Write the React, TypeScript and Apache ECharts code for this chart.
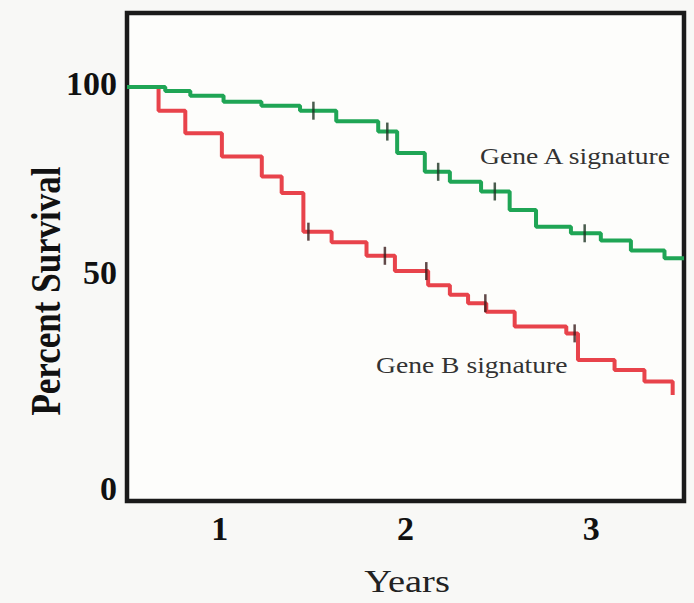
import React, { useEffect, useRef } from 'react';
import * as echarts from 'echarts';

// Kaplan–Meier style step data (time in years, percent survival)
const geneATimes = [0.5, 0.706, 0.841, 1.02, 1.224, 1.432, 1.627, 1.853, 1.955, 2.104, 2.239, 2.407, 2.561, 2.703, 2.891, 3.052, 3.214, 3.395, 3.5];
const geneASurvival = [100, 99.0, 97.8, 96.3, 95.3, 94.1, 91.5, 88.9, 83.6, 78.9, 76.4, 74.0, 69.4, 65.2, 63.6, 61.8, 59.3, 57.4, 57.4];
const geneACensorTimes = [1.504, 1.902, 2.176, 2.481, 2.965];
const geneACensorValues = [94.1, 88.9, 78.9, 74.0, 63.6];

const geneBTimes = [0.5, 0.67, 0.814, 1.011, 1.226, 1.333, 1.45, 1.602, 1.79, 1.943, 2.122, 2.239, 2.337, 2.435, 2.588, 2.866, 2.929, 3.126, 3.287, 3.439];
const geneBSurvival = [100, 94.1, 88.5, 82.7, 77.7, 73.6, 64.0, 61.4, 58.0, 54.2, 50.7, 48.3, 46.2, 44.1, 40.4, 38.7, 32.1, 29.6, 26.7, 23.4];
const geneBCensorTimes = [1.477, 1.889, 2.112, 2.43, 2.911];
const geneBCensorValues = [64.0, 58.0, 54.2, 46.2, 38.7];

const xTickValues = [1, 2, 3];
const yTickValues = [0, 50, 100];

const seriesNames = ['Gene A signature', 'Gene B signature'];
const xTitle = 'Years';
const yTitle = 'Percent Survival';

const SERIF = "'Liberation Serif', 'Times New Roman', serif";

const zip = (a: number[], b: number[]) => a.map((v, i) => [v, b[i]]);

export default function App() {
  const ref = useRef<HTMLDivElement>(null);
  useEffect(() => {
    const chart = echarts.init(ref.current!, null, { renderer: 'svg' });
    const tickStyle = { fontFamily: SERIF, fontWeight: 'bold', fontSize: 34, color: '#111' };
    chart.setOption({
      animation: false,
      backgroundColor: '#f8f8f6',
      grid: {
        left: 127,
        right: 10,
        top: 13,
        bottom: 102,
        show: true,
        borderColor: '#1a1a1a',
        borderWidth: 4.5,
        backgroundColor: '#fdfdfb',
      },
      xAxis: {
        type: 'value',
        min: 0.5,
        max: 3.5,
        axisLine: { show: false },
        axisTick: { show: false },
        splitLine: { show: false },
        axisLabel: {
          customValues: xTickValues,
          margin: 10,
          ...tickStyle,
        },
      },
      yAxis: {
        type: 'value',
        min: -3,
        max: 118.4,
        axisLine: { show: false },
        axisTick: { show: false },
        splitLine: { show: false },
        axisLabel: {
          customValues: yTickValues,
          margin: 10,
          formatter: (v: number) => (v === 50 ? '{m|' + v + '}' : v === 100 ? '{t|' + v + '}' : '{n|' + v + '}'),
          rich: {
            n: { ...tickStyle },
            m: { ...tickStyle, padding: [0, 0, 30, 0] },
            t: { ...tickStyle, padding: [0, 0, 6, 0] },
          },
        },
      },
      series: [
        {
          name: seriesNames[1],
          type: 'line',
          step: 'end',
          symbol: 'none',
          data: zip(geneBTimes, geneBSurvival),
          lineStyle: { color: '#e8434b', width: 4 },
          z: 2,
        },
        {
          name: seriesNames[0],
          type: 'line',
          step: 'end',
          symbol: 'none',
          data: zip(geneATimes, geneASurvival),
          lineStyle: { color: '#1fa555', width: 4 },
          z: 3,
        },
        {
          name: seriesNames[1] + ' censored',
          type: 'scatter',
          symbol: 'rect',
          symbolSize: [2.5, 18],
          data: zip(geneBCensorTimes, geneBCensorValues),
          itemStyle: { color: '#3a1c1c' },
          z: 4,
        },
        {
          name: seriesNames[0] + ' censored',
          type: 'scatter',
          symbol: 'rect',
          symbolSize: [2.5, 18],
          data: zip(geneACensorTimes, geneACensorValues),
          itemStyle: { color: '#1c3322' },
          z: 4,
        },
      ],
      graphic: [
        {
          type: 'text',
          x: 480,
          y: 156,
          scaleX: 1.2,
          style: { text: seriesNames[0], font: `23px ${SERIF}`, fill: '#333', textAlign: 'left', textVerticalAlign: 'middle' },
        },
        {
          type: 'text',
          x: 376,
          y: 365,
          scaleX: 1.2,
          style: { text: seriesNames[1], font: `23px ${SERIF}`, fill: '#333', textAlign: 'left', textVerticalAlign: 'middle' },
        },
        {
          type: 'text',
          x: 407,
          y: 582,
          scaleX: 1.2,
          style: { text: xTitle, font: `32px ${SERIF}`, fill: '#222', textAlign: 'center', textVerticalAlign: 'middle' },
        },
        {
          type: 'text',
          x: 46,
          y: 291,
          rotation: Math.PI / 2,
          scaleY: 1.2,
          style: { text: yTitle, font: `bold 35px ${SERIF}`, fill: '#111', textAlign: 'center', textVerticalAlign: 'middle' },
        },
      ],
    });
    return () => chart.dispose();
  }, []);
  return <div ref={ref} style={{ position: 'absolute', left: 0, top: 0, width: 694, height: 603 }} />;
}
